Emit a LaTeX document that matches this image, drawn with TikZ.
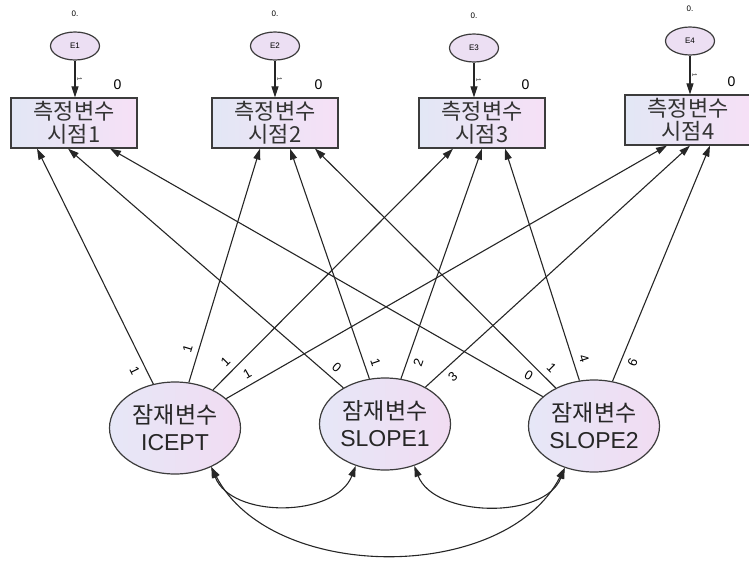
\documentclass[tikz,border=0pt]{standalone}
\usepackage{fontspec}
\setmainfont{Liberation Sans}
\newfontfamily\krfont{Noto Sans CJK KR}
\usetikzlibrary{arrows.meta,positioning,shapes.geometric}
\definecolor{edgegray}{HTML}{3C3C3C}
\definecolor{boxleft}{HTML}{E2E7F5}
\definecolor{boxright}{HTML}{F6E0F6}
\definecolor{ovalleft}{HTML}{E6E7F7}
\definecolor{ovalright}{HTML}{F1DCF2}
\definecolor{errfill}{HTML}{ECDFF3}
\begin{document}
\begin{tikzpicture}[x=1pt,y=-1pt,
  obs/.style={draw=edgegray,line width=1.2pt,left color=boxleft,right color=boxright,
    minimum width=126pt,minimum height=50pt,inner sep=0pt,align=center,
    font=\krfont\fontsize{22}{23}\selectfont,text=black!80},
  lat/.style={ellipse,draw=edgegray,line width=1.2pt,left color=ovalleft,right color=ovalright,
    minimum width=131pt,minimum height=92pt,inner sep=0pt,align=center,
    font=\fontsize{23}{27}\selectfont,text=black!85},
  err/.style={ellipse,draw=edgegray,line width=1.2pt,fill=errfill,
    minimum width=49pt,minimum height=28pt,inner sep=0pt,font=\fontsize{8}{9}\selectfont},
  load/.style={draw=black!85,line width=1.1pt,-{Triangle[length=11pt,width=7pt]}},
  cov/.style={draw=black!85,line width=1.1pt,{Triangle[length=11pt,width=7pt]}-{Triangle[length=11pt,width=7pt]}},
  wt/.style={sloped,font=\fontsize{13}{13}\selectfont,inner sep=1pt},
  unit/.style={sloped,font=\fontsize{6}{6}\selectfont,inner sep=1pt},
  mean/.style={font=\fontsize{14}{14}\selectfont,inner sep=0pt},
  var/.style={font=\fontsize{8}{8}\selectfont,inner sep=0pt}]
\useasboundingbox (0,0) rectangle (749,565);

% measured variables
\node[obs] (m1) at (74,123) {측정변수\\시점1};
\node[obs] (m2) at (275,123) {측정변수\\시점2};
\node[obs] (m3) at (482,123) {측정변수\\시점3};
\node[obs] (m4) at (688,120) {측정변수\\시점4};

% errors
\node[err] (e1) at (75,46) {E1};
\node[err] (e2) at (275,46) {E2};
\node[err] (e3) at (474,48) {E3};
\node[err] (e4) at (690,41) {E4};
\foreach \i in {1,...,4}{
  \node[var,above=15pt of e\i] (v\i) {0.};
  \node[mean,above left=8pt and 16pt of m\i.north east] (i\i) {0};
  \draw[load] (e\i) -- node[unit,above=1pt]{1} (e\i |- m\i.north);
}

% latent growth factors
\node[lat] (icept) at (175,428) {{\krfont 잠재변수}\\ICEPT};
\node[lat] (slope1) at (385,424) {{\krfont 잠재변수}\\SLOPE1};
\node[lat] (slope2) at (594,426) {{\krfont 잠재변수}\\SLOPE2};

% loadings
\draw[load] (icept) -- node[wt,pos=.075,below=5pt]{1} ([xshift=-37pt]m1.south);
\draw[load] (icept) -- node[wt,pos=.13,above=5pt]{1} ([xshift=-15pt]m2.south);
\draw[load] (icept) -- node[wt,pos=.085,above=5pt]{1} ([xshift=-29pt]m3.south);
\draw[load] (icept) -- node[wt,pos=.06,above=5pt]{1} ([xshift=-21pt]m4.south);
\draw[load] (slope1) -- node[wt,pos=.05,above=5pt]{0} ([xshift=-6pt]m1.south);
\draw[load] (slope1) -- node[wt,pos=.055,above=5pt]{1} ([xshift=15pt]m2.south);
\draw[load] (slope1) -- node[wt,pos=.085,below=5pt]{2} (m3.south);
\draw[load] (slope1) -- node[wt,pos=.075,below=5pt]{3} ([xshift=2pt]m4.south);
\draw[load] (slope2) -- node[wt,pos=.045,above=5pt]{0} ([xshift=36pt]m1.south);
\draw[load] (slope2) -- node[wt,pos=.05,above=5pt]{1} ([xshift=40pt]m2.south);
\draw[load] (slope2) -- node[wt,pos=.08,above=5pt]{4} ([xshift=23pt]m3.south);
\draw[load] (slope2) -- node[wt,pos=.1,below=5pt]{6} ([xshift=22pt]m4.south);

% covariances
\draw[cov] (icept.-47) .. controls +(20,52) and +(-20,52) .. (slope1.-125);
\draw[cov] (slope1.-55) .. controls +(20,52) and +(-20,52) .. (slope2.-125);
\draw[cov] (icept.-47) .. controls +(60,116) and +(-60,116) .. (slope2.-125);
\end{tikzpicture}
\end{document}
